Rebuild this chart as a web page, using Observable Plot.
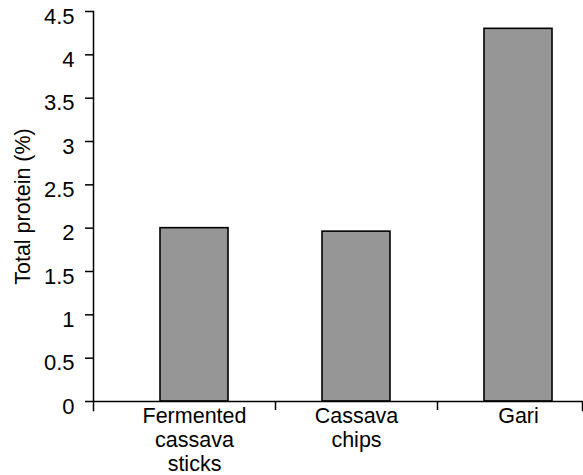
<!DOCTYPE html>
<html><head><meta charset="utf-8">
<script src="https://cdn.jsdelivr.net/npm/d3@7"></script>
<script src="https://cdn.jsdelivr.net/npm/@observablehq/plot@0.6"></script>
<style>body{margin:0;background:#fff;}</style>
</head><body><div id="chart"></div>
<script>
const categories = ["Fermented cassava sticks", "Cassava chips", "Gari"];
const categoryLabels = ["Fermented\ncassava\nsticks", "Cassava\nchips", "Gari"];
const totalProtein = [2.0, 1.96, 4.30];
const yTicks = [0, 0.5, 1, 1.5, 2, 2.5, 3, 3.5, 4, 4.5];
const yLabel = "Total protein (%)";

const data = categories.map((c, i) => ({category: c, label: categoryLabels[i], value: totalProtein[i]}));

const W = 583, H = 475;
const mTop = 11, mBottom = 74, mLeft = 93, mRight = 1;
const xRange = [113, 599];
const step = (xRange[1] - xRange[0]) / categories.length;
const plotH = H - mTop - mBottom;
const fs = 21.5;

const chart = Plot.plot({
  width: W, height: H,
  marginTop: mTop, marginBottom: mBottom, marginLeft: mLeft, marginRight: mRight,
  style: {fontFamily: "'Liberation Sans', Arial, sans-serif", fontSize: fs + "px", color: "#000", background: "#fff"},
  x: {domain: categories, range: xRange, paddingInner: 0.58, paddingOuter: 0.29, axis: null},
  y: {domain: [0, 4.5], axis: null},
  marks: [
    Plot.barY(data, {x: "category", y: "value", fill: "#969696", stroke: "#000", strokeWidth: 1.6}),
    Plot.ruleY([0], {stroke: "#000", strokeWidth: 1.5}),
    Plot.frame({anchor: "left", stroke: "#000", strokeWidth: 1.5, insetBottom: -9}),
    Plot.frame({anchor: "right", stroke: "#000", strokeWidth: 1.5, insetTop: plotH, insetBottom: -9}),
    Plot.ruleX(categories.slice(1), {x: d => d, y1: 0, y2: 0, dx: -step / 2, insetBottom: -9, stroke: "#000", strokeWidth: 1.5}),
    Plot.axisY({ticks: yTicks, tickSize: 8, tickFormat: () => "", label: null, stroke: "#000", strokeWidth: 1.5}),
    Plot.text(yTicks, {y: d => d, text: d => String(d), frameAnchor: "left", textAnchor: "end", dx: -19, dy: 5, fontSize: 22, fill: "#000"}),
    Plot.text(data, {x: "category", y: 0, text: "label", lineAnchor: "top", dy: 4, lineHeight: 1.12, fontSize: fs, fill: "#000"}),
    Plot.text([yLabel], {frameAnchor: "left", textAnchor: "middle", rotate: -90, dx: -70, fontSize: fs, fill: "#000"})
  ]
});
document.getElementById("chart").appendChild(chart);
</script>
</body></html>
